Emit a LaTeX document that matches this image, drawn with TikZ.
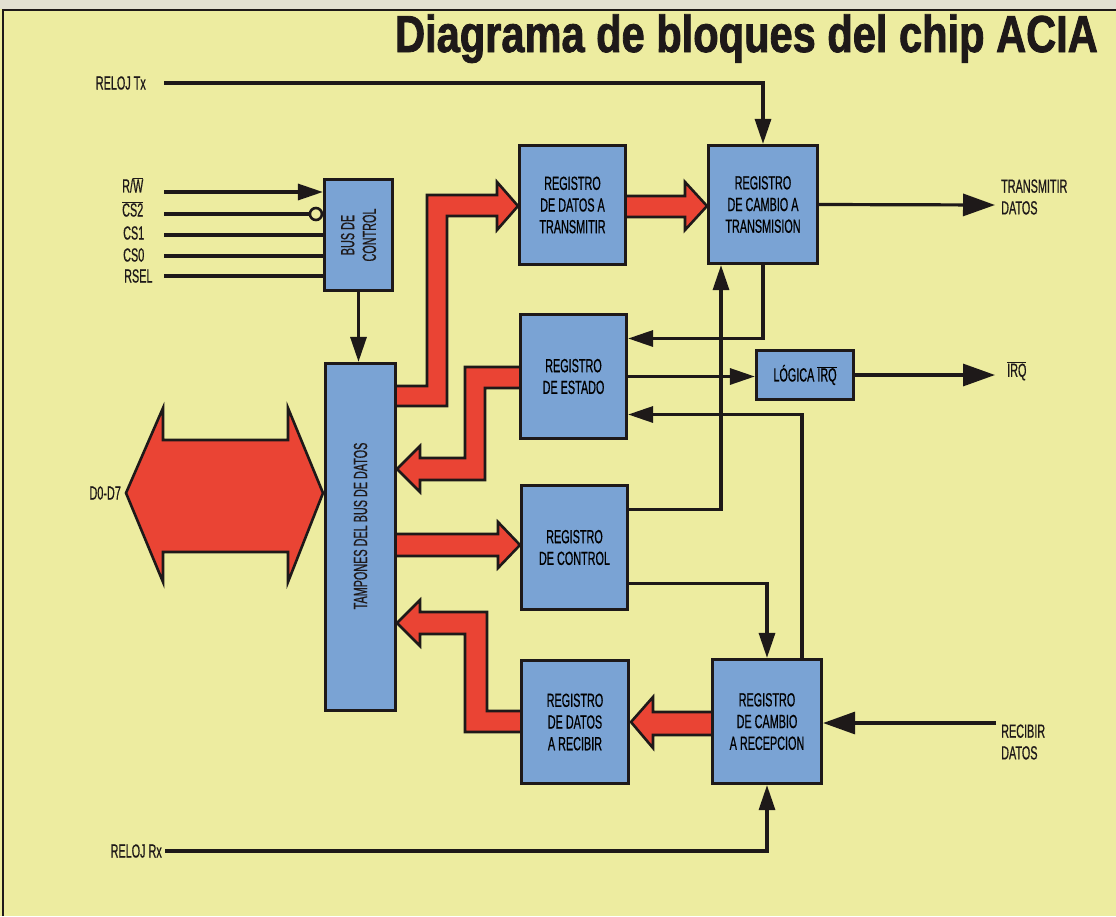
\documentclass[tikz,border=0pt]{standalone}
\usepackage{fontspec}
\usetikzlibrary{arrows.meta,calc}
\newfontfamily\condf{Liberation Sans}[FakeStretch=0.57,FakeBold=0.6]
\newfontfamily\titlef{Liberation Sans}[FakeStretch=0.8,FakeBold=1.6]
\newcommand{\lblfont}{\condf\fontsize{19}{21.7}\selectfont}
\definecolor{bgyel}{RGB}{237,236,160}
\definecolor{boxblue}{RGB}{122,163,212}
\definecolor{busred}{RGB}{234,68,52}
\definecolor{ink}{RGB}{30,25,25}
\definecolor{topgray}{RGB}{226,224,210}
\begin{document}
\begin{tikzpicture}[x=1pt,y=-1pt,
  ln/.style={line width=3.2pt, draw=ink},
  arr/.style={ln, -{Triangle[length=25pt,width=16pt]}},
  bigarr/.style={ln, -{Triangle[length=32pt,width=22pt]}},
  blk/.style={draw=ink, line width=3.2pt, fill=boxblue, inner sep=0pt, align=center, font=\lblfont},
  lbl/.style={inner sep=0pt, align=center, font=\lblfont, text=ink},
  bus/.style={fill=busred, draw=ink, line width=2.6pt, line join=miter}]
\useasboundingbox (0,0) rectangle (1116,916);
\fill[bgyel] (0,0) rectangle (1116,916);
\fill[topgray] (0,0) rectangle (1116,9);
\draw[ink, line width=2pt] (3,916) -- (3,10) -- (1116,10);

% title
\node[anchor=base east, inner sep=0pt, text=ink, font=\titlef\bfseries\fontsize{52}{52}\selectfont] (title) at (1098,52) {Diagrama de bloques del chip ACIA};

% red data paths
\draw[bus] (390,386) -- (427,386) -- (427,195) -- (497,195) -- (497,182) -- (518,206) -- (497,230) -- (497,216) -- (447,216) -- (447,406) -- (390,406) -- cycle;
\draw[bus] (525,367) -- (465,367) -- (465,458) -- (420,458) -- (420,446) -- (397,469) -- (420,492) -- (420,480) -- (485,480) -- (485,388) -- (525,388) -- cycle;
\draw[bus] (390,534) -- (498,534) -- (498,522) -- (520,545) -- (498,568) -- (498,556) -- (390,556) -- cycle;
\draw[bus] (526,711) -- (487,711) -- (487,612) -- (420,612) -- (420,600) -- (397,623) -- (420,646) -- (420,634) -- (465,634) -- (465,732) -- (526,732) -- cycle;
\draw[bus] (620,196) -- (685,196) -- (685,182) -- (707,206) -- (685,230) -- (685,217) -- (620,217) -- cycle;
\draw[bus] (718,712) -- (653,712) -- (653,697) -- (631,722) -- (653,748) -- (653,735) -- (718,735) -- cycle;
\draw[bus] (126,493) -- (163,408) -- (163,440) -- (288,440) -- (288,408) -- (323,493) -- (288,582) -- (288,552) -- (163,552) -- (163,582) -- cycle;

% blocks
\node[blk, minimum width=68pt, minimum height=111pt] (busc) at (358.5,235) {};
\node[lbl, rotate=90] at (busc) {BUS DE\\CONTROL};
\node[blk, minimum width=70pt, minimum height=347pt] (tamp) at (360.5,537) {};
\node[lbl, rotate=90] at (360.5,526) {TAMPONES DEL BUS DE DATOS};
\node[blk, minimum width=106pt, minimum height=119pt] (rdtx) at (572.5,205) {REGISTRO\\DE DATOS A\\TRANSMITIR};
\node[blk, minimum width=109pt, minimum height=118pt] (rctx) at (763,204.5) {REGISTRO\\DE CAMBIO A\\TRANSMISION};
\node[blk, minimum width=106pt, minimum height=124pt] (rest) at (573.5,376.5) {REGISTRO\\DE ESTADO};
\node[blk, minimum width=97pt, minimum height=49pt] (logi) at (805,375) {LÓGICA $\overline{\mbox{IRQ}}$};
\node[blk, minimum width=106pt, minimum height=124pt] (rctl) at (574.5,547.5) {REGISTRO\\DE CONTROL};
\node[blk, minimum width=107pt, minimum height=123pt] (rdrx) at (575,722) {REGISTRO\\DE DATOS\\A RECIBIR};
\node[blk, minimum width=109pt, minimum height=124pt] (rcrx) at (767,721.5) {REGISTRO\\DE CAMBIO\\A RECEPCION};

% external labels
\node[lbl, anchor=east] (lrtx) at (146,83) {RELOJ Tx};
\node[lbl, anchor=east] (lrrx) at (162,851) {RELOJ Rx};
\node[lbl, anchor=west] (lrw) at (122,185) {R/$\overline{\mbox{W}}$};
\node[lbl, anchor=west] (lcs2) at (122,209) {$\overline{\mbox{CS2}}$};
\node[lbl, anchor=west] (lcs1) at (123,233) {CS1};
\node[lbl, anchor=west] (lcs0) at (123,255) {CS0};
\node[lbl, anchor=west] (lrsel) at (124,276) {RSEL};
\node[lbl, anchor=east] (ld) at (121,493) {D0-D7};
\node[lbl, anchor=west, align=left] (ltx) at (1001,197) {TRANSMITIR\\DATOS};
\node[lbl, anchor=west] (lirq) at (1007,371) {$\overline{\mbox{IRQ}}$};
\node[lbl, anchor=west, align=left] (lrx) at (1001,742) {RECIBIR\\DATOS};

% free ends
\coordinate (tx0) at (164,83);
\coordinate (rx0) at (165,851);
\coordinate (irw) at (164,192);
\coordinate (ics2) at (164,214);
\coordinate (ics1) at (164,235);
\coordinate (ics0) at (164,256);
\coordinate (irsel) at (164,276);
\coordinate (txout) at (995,205);
\coordinate (irqout) at (995,375);
\coordinate (rxin) at (996,723);

% connectors
\draw[arr] (tx0) -| (rctx.north);
\draw[arr] (rx0) -| (rcrx.south);
\draw[arr] (irw) -- (irw -| busc.west);
\draw[ln] (ics2) -- ($(ics2 -| busc.west)+(-13,0)$);
\draw[ln, fill=bgyel, line width=2.6pt] ($(ics2 -| busc.west)+(-7,0)$) circle (6pt);
\draw[ln] (ics1) -- (ics1 -| busc.west);
\draw[ln] (ics0) -- (ics0 -| busc.west);
\draw[ln] (irsel) -- (irsel -| busc.west);
\draw[arr] (busc.south) -- (busc.south |- tamp.north);
\draw[bigarr] (rctx.east) -- (txout);
\draw[arr] (rctx.south) |- ([yshift=38pt]rest.east);
\draw[arr] (rest.east) -- (rest.east -| logi.west);
\draw[bigarr] (logi.east) -- (irqout);
\draw[arr] ([xshift=35pt]rcrx.north) |- ([yshift=-38pt]rest.east);
\draw[arr] ([yshift=38pt]rctl.east) -| ([xshift=-42pt]rctx.south);
\draw[arr] ([yshift=-36pt]rctl.east) -| (rcrx.north);
\draw[bigarr] (rxin) -- (rxin -| rcrx.east);
\end{tikzpicture}
\end{document}
